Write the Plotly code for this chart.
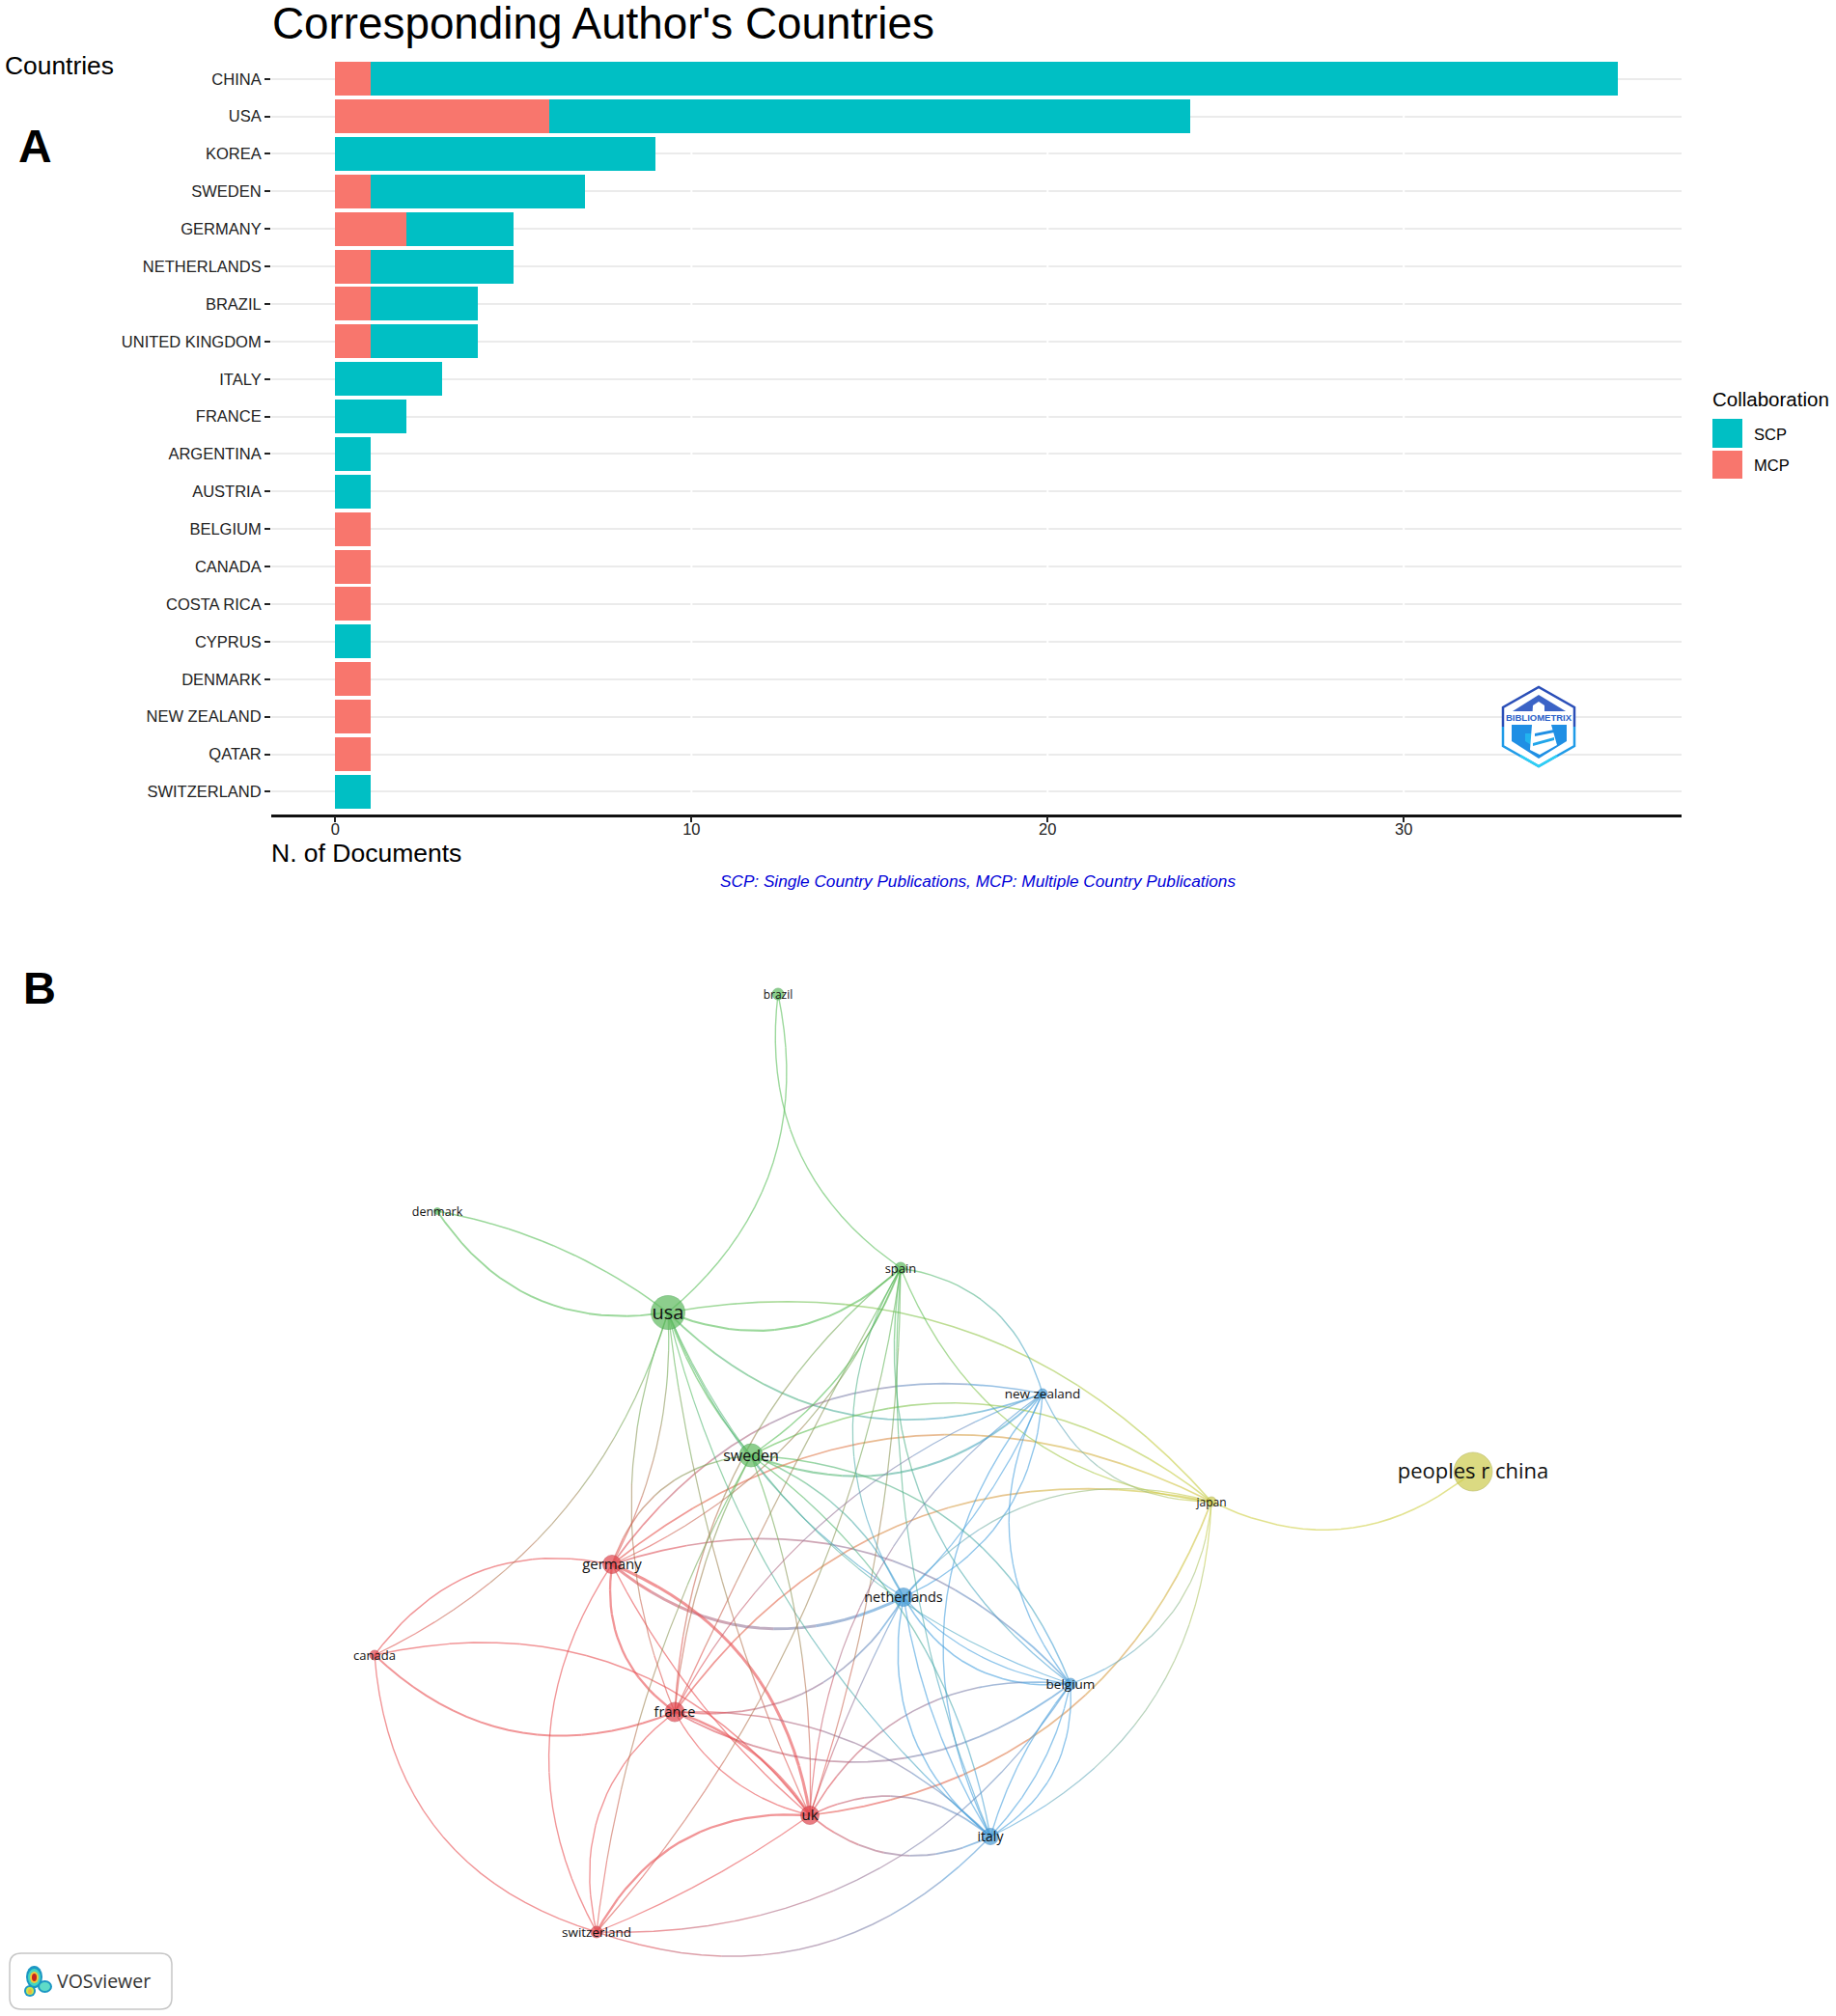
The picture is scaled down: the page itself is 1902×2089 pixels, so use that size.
import plotly.graph_objects as go

# ---- Panel A data ----
countries = ["CHINA", "USA", "KOREA", "SWEDEN", "GERMANY", "NETHERLANDS", "BRAZIL",
             "UNITED KINGDOM", "ITALY", "FRANCE", "ARGENTINA", "AUSTRIA", "BELGIUM",
             "CANADA", "COSTA RICA", "CYPRUS", "DENMARK", "NEW ZEALAND", "QATAR", "SWITZERLAND"]
mcp_docs = [1, 6, 0, 1, 2, 1, 1, 1, 0, 0, 0, 0, 1, 1, 1, 0, 1, 1, 1, 0]
scp_docs = [35, 18, 9, 6, 3, 4, 3, 3, 3, 2, 1, 1, 0, 0, 0, 1, 0, 0, 0, 1]
x_ticks = [0, 10, 20, 30]

# ---- Panel B data (map coordinates of the VOSviewer layout) ----
node_names = ["brazil", "denmark", "usa", "spain", "new zealand", "sweden", "germany", "netherlands",
              "canada", "france", "belgium", "uk", "italy", "switzerland", "japan", "peoples r china"]
node_x = [806, 453, 692, 933, 1080, 778, 634, 936, 388, 699, 1109, 839, 1026, 618, 1255, 1526]
node_y = [1030, 1255, 1360, 1314, 1444, 1508, 1621, 1655, 1715, 1774, 1745, 1881, 1903, 2002, 1556, 1525]
node_size = [12, 7, 35, 12, 10, 24, 19, 19, 10, 20, 12, 19, 17, 12, 10, 40]
node_cluster = ["g", "g", "g", "g", "b", "g", "r", "b", "r", "r", "b", "r", "b", "r", "y", "y"]
label_size = [12, 12.5, 20, 13, 13.5, 16, 15, 14.5, 13, 14.5, 13.5, 15, 14, 13.5, 12, 22]

# (from, to, bend, width): bend > 0 bulges to the right-hand side of the travel direction
edges = [
    ("usa", "denmark", -0.32, 1.6), ("usa", "denmark", 0.12, 1.3), ("usa", "brazil", 0.30, 1.2),
    ("spain", "brazil", -0.30, 1.2), ("usa", "spain", 0.32, 1.8), ("usa", "japan", -0.28, 1.4),
    ("spain", "japan", 0.30, 1.2), ("spain", "new zealand", -0.32, 1.2), ("usa", "new zealand", 0.32, 1.6),
    ("sweden", "new zealand", 0.32, 1.8), ("germany", "new zealand", -0.32, 1.5), ("sweden", "japan", -0.32, 1.4),
    ("germany", "japan", -0.32, 1.5), ("france", "japan", -0.32, 1.5), ("uk", "japan", 0.30, 1.5),
    ("belgium", "japan", 0.32, 1.1), ("italy", "japan", 0.30, 1.1), ("new zealand", "japan", 0.32, 1.1),
    ("japan", "peoples r china", 0.32, 1.4), ("netherlands", "new zealand", 0.30, 1.2),
    ("netherlands", "new zealand", 0.10, 1.1), ("netherlands", "japan", -0.32, 1.1),
    ("new zealand", "belgium", 0.32, 1.2), ("new zealand", "italy", 0.32, 1.2), ("spain", "belgium", 0.30, 1.2),
    ("sweden", "belgium", -0.32, 1.3), ("germany", "belgium", -0.32, 1.5), ("netherlands", "belgium", 0.32, 1.4),
    ("netherlands", "belgium", 0.18, 1.1), ("france", "belgium", 0.32, 1.6), ("uk", "belgium", -0.32, 1.4),
    ("france", "netherlands", 0.32, 1.5), ("germany", "netherlands", 0.32, 2.6), ("germany", "france", 0.30, 2.0),
    ("germany", "uk", -0.28, 2.6), ("germany", "uk", 0.10, 1.2), ("germany", "canada", 0.32, 1.3),
    ("canada", "france", 0.32, 1.7), ("canada", "uk", -0.32, 1.3), ("canada", "switzerland", 0.34, 1.2),
    ("germany", "switzerland", 0.30, 1.2), ("france", "switzerland", 0.32, 1.2), ("france", "uk", -0.18, 2.2),
    ("france", "uk", 0.22, 1.2), ("france", "italy", -0.22, 1.3), ("uk", "switzerland", 0.32, 2.0),
    ("uk", "switzerland", -0.06, 1.1), ("belgium", "switzerland", -0.28, 1.2), ("switzerland", "italy", 0.32, 1.3),
    ("spain", "switzerland", -0.15, 1.1), ("spain", "sweden", -0.16, 1.3), ("spain", "germany", -0.20, 1.1),
    ("spain", "france", 0.22, 1.2), ("spain", "france", 0.02, 1.1), ("spain", "uk", -0.08, 1.1),
    ("spain", "netherlands", 0.30, 1.1), ("spain", "italy", 0.12, 1.1), ("usa", "canada", -0.22, 1.1),
    ("usa", "france", 0.20, 1.1), ("usa", "germany", -0.14, 1.1), ("usa", "sweden", 0.10, 1.3),
    ("usa", "uk", 0.08, 1.1), ("usa", "netherlands", 0.16, 1.1), ("usa", "italy", 0.16, 1.1),
    ("usa", "belgium", 0.22, 1.0), ("sweden", "germany", 0.32, 1.3), ("sweden", "france", 0.10, 1.2),
    ("sweden", "uk", -0.10, 1.1), ("sweden", "switzerland", 0.10, 1.1), ("sweden", "netherlands", -0.20, 1.3),
    ("sweden", "italy", -0.20, 1.2), ("netherlands", "italy", 0.30, 1.3), ("netherlands", "italy", 0.10, 1.2),
    ("netherlands", "uk", 0.04, 1.1), ("belgium", "italy", 0.10, 1.2), ("belgium", "italy", -0.30, 1.2),
    ("belgium", "italy", -0.14, 1.2), ("uk", "italy", -0.32, 1.5), ("uk", "italy", 0.32, 1.6),
    ("new zealand", "france", 0.19, 1.1), ("new zealand", "uk", 0.24, 1.1),
]

# ---- colours ----
SCP_COLOR = "#00BFC4"
MCP_COLOR = "#F8766D"
GRID = "#ebebeb"
CLUSTER_RGB = {"r": (232, 78, 82), "g": (88, 190, 88), "b": (72, 160, 222), "y": (206, 206, 66)}
CLUSTER_NODE = {"r": "rgb(226,70,78)", "g": "rgb(94,186,94)",
                "b": "rgb(70,156,216)", "y": "rgb(205,203,78)"}
CLUSTER_EDGE = {"r": "rgba(190,50,60,0.7)", "g": "rgba(60,160,70,0.7)",
                "b": "rgba(50,130,190,0.7)", "y": "rgba(170,170,60,0.7)"}

W, H = 1902, 2089
PX = lambda v: v / W
PY = lambda v: 1 - v / H
SANS = "Liberation Sans, Arial, sans-serif"
OPEN = "Open Sans, Noto Sans, sans-serif"

fig = go.Figure()

# ---- Panel A bars ----
fig.add_trace(go.Bar(y=countries, x=mcp_docs, name="MCP", orientation="h", marker_color=MCP_COLOR,
                     marker_line_width=0, width=0.9, showlegend=False))
fig.add_trace(go.Bar(y=countries, x=scp_docs, name="SCP", orientation="h", marker_color=SCP_COLOR,
                     marker_line_width=0, width=0.9, showlegend=False))

# ---- Panel B edges, drawn as curved gradient lines ----
index = {n: i for i, n in enumerate(node_names)}
N_SEG, N_PTS = 7, 4
LABEL_DROP = 1.5


def curve(a, b, bend, t):
    ax, ay, bx, by = node_x[a], node_y[a], node_x[b], node_y[b]
    cx = (ax + bx) / 2 - bend * (by - ay)
    cy = (ay + by) / 2 + bend * (bx - ax)
    u = 1 - t
    return u * u * ax + 2 * u * t * cx + t * t * bx, u * u * ay + 2 * u * t * cy + t * t * by


for name_a, name_b, bend, width in edges:
    a, b = index[name_a], index[name_b]
    ca, cb = CLUSTER_RGB[node_cluster[a]], CLUSTER_RGB[node_cluster[b]]
    for s in range(N_SEG):
        ts = [(s + k / (N_PTS - 1)) / N_SEG for k in range(N_PTS)]
        pts = [curve(a, b, bend, t) for t in ts]
        m = (s + 0.5) / N_SEG
        col = [round(ca[i] * (1 - m) + cb[i] * m) for i in range(3)]
        fig.add_trace(go.Scatter(
            x=[p[0] for p in pts], y=[p[1] for p in pts], xaxis="x2", yaxis="y2", mode="lines",
            line=dict(color=f"rgba({col[0]},{col[1]},{col[2]},0.6)", width=width * 1.15),
            hoverinfo="skip", showlegend=False))

# ---- Panel B nodes and labels ----
fig.add_trace(go.Scatter(
    x=node_x, y=node_y, xaxis="x2", yaxis="y2", mode="markers",
    marker=dict(size=node_size, color=[CLUSTER_NODE[c] for c in node_cluster],
                line=dict(width=1, color=[CLUSTER_EDGE[c] for c in node_cluster])),
    hoverinfo="skip", showlegend=False))
fig.add_trace(go.Scatter(
    x=node_x, y=[v + LABEL_DROP for v in node_y], xaxis="x2", yaxis="y2", mode="text", text=node_names,
    textposition="middle center",
    textfont=dict(family=OPEN, size=label_size, color="#111111"),
    hoverinfo="skip", showlegend=False))

shapes = []
# white breaks in the horizontal grid at the x ticks
for t in x_ticks[1:]:
    shapes.append(dict(type="line", xref="x", yref="y", x0=t, x1=t, y0=-0.6, y1=19.6,
                       line=dict(color="white", width=2), layer="between"))
# legend keys
shapes.append(dict(type="rect", xref="x2", yref="y2", x0=1774, x1=1805, y0=434, y1=464,
                   fillcolor=SCP_COLOR, line_width=0))
shapes.append(dict(type="rect", xref="x2", yref="y2", x0=1774, x1=1805, y0=467, y1=496,
                   fillcolor=MCP_COLOR, line_width=0))


def poly(points, fill, line_color=None, line_width=0):
    path = "M " + " L ".join(f"{x} {y}" for x, y in points) + " Z"
    d = dict(type="path", xref="x2", yref="y2", path=path, fillcolor=fill, line_width=line_width)
    if line_color:
        d["line_color"] = line_color
    return d


def open_line(points, color, width):
    path = "M " + " L ".join(f"{x} {y}" for x, y in points)
    return dict(type="path", xref="x2", yref="y2", path=path, line=dict(color=color, width=width))


# Bibliometrix badge
shapes += [
    poly([(1594, 712), (1631, 733), (1631, 773), (1594, 794), (1557, 773), (1557, 733)], "white"),
    open_line([(1557, 753), (1557, 733), (1594, 712), (1631, 733), (1631, 753)], "#2b4fb8", 2.5),
    open_line([(1557, 753), (1557, 773), (1594, 794), (1631, 773), (1631, 753)], "#1f9be8", 2.5),
    open_line([(1575, 783), (1594, 794), (1613, 783)], "#2fd0f5", 2.5),
    poly([(1567, 737), (1594, 720), (1622, 737)], "#3b63c6"),
    poly([(1566, 751), (1623, 751), (1623, 768), (1594, 786), (1566, 768)], "#1f8fe4"),
    poly([(1580, 768), (1594, 777), (1608, 768), (1608, 760), (1580, 760)], "#22b4ef"),
    poly([(1588, 731), (1594, 727), (1600, 731), (1600, 746), (1587, 746)], "white"),
    poly([(1587, 751), (1607, 751), (1613, 772), (1595, 782), (1585, 777)], "white"),
    poly([(1590, 760), (1610, 756), (1610, 759), (1590, 763)], "#1f8fe4"),
    poly([(1588, 770), (1610, 764), (1610, 767), (1588, 773)], "#22a6ea"),
]
# VOSviewer box and heat-map mark
shapes += [
    dict(type="path", xref="x2", yref="y2",
         path="M 22 2024 L 166 2024 Q 178 2024 178 2036 L 178 2070 Q 178 2082 166 2082 "
              "L 22 2082 Q 10 2082 10 2070 L 10 2036 Q 10 2024 22 2024 Z",
         fillcolor="white", line=dict(color="#c6c6c6", width=1.5)),
]
blobs = [
    (27, 44, 2037, 2060, "#1b97c4"), (39, 54, 2052, 2065, "#1b97c4"), (25, 37, 2057, 2069, "#1b97c4"),
    (29, 42, 2040, 2058, "#45d6c0"), (41, 52, 2054, 2063, "#5fdcc8"), (27, 35, 2059, 2067, "#c8e650"),
    (31, 40, 2043, 2055, "#f3c93a"), (33, 38, 2045, 2053, "#c4261c"), (29, 33, 2061, 2066, "#f4b13a"),
]
for x0, x1, y0, y1, c in blobs:
    shapes.append(dict(type="circle", xref="x2", yref="y2", x0=x0, x1=x1, y0=y0, y1=y1,
                       fillcolor=c, line_width=0))


def note(text, x, y, size, anchor="left", color="#000000", family=SANS):
    return dict(text=text, xref="paper", yref="paper", x=PX(x), y=PY(y), xanchor=anchor, yanchor="middle",
                showarrow=False, font=dict(family=family, size=size, color=color))


annotations = [
    note("Corresponding Author's Countries", 280, 25, 45.8),
    note("Countries", 3, 68, 26.4),
    note("<b>A</b>", 17, 151, 48),
    note("<b>B</b>", 22, 1023, 47),
    note("N. of Documents", 279, 884, 26.5),
    note("<i>SCP: Single Country Publications, MCP: Multiple Country Publications</i>", 1013, 913, 17.2,
         anchor="center", color="#0000d8"),
    note("Collaboration", 1772, 414, 20.5),
    note("SCP", 1815, 450, 16.5),
    note("MCP", 1815, 482, 16.5),
    note("<b>BIBLIOMETRIX</b>", 1594, 743, 9.5, anchor="center", color="#2a5fc8"),
    note("VOSviewer", 57, 2052, 19.5, color="#333333", family=OPEN),
]

fig.update_layout(
    width=W, height=H, margin=dict(l=0, r=0, t=0, b=0), autosize=False,
    paper_bgcolor="white", plot_bgcolor="rgba(0,0,0,0)", barmode="stack", bargap=0.1,
    showlegend=False, font=dict(family=SANS),
    xaxis=dict(domain=[PX(281), PX(1742)], anchor="y", range=[-1.8, 37.8], tickvals=x_ticks,
               showgrid=False, zeroline=False, showline=True, linecolor="#111111", linewidth=2.5,
               ticks="outside", ticklen=6, tickwidth=1.5, tickcolor="#222222", ticklabelstandoff=-7,
               tickfont=dict(size=16.5, color="#222222")),
    yaxis=dict(domain=[PY(843.7), PY(58.4)], anchor="x", type="category", categoryorder="array",
               categoryarray=countries, range=[19.6, -0.6], showgrid=True, gridcolor=GRID, gridwidth=2,
               zeroline=False, showline=False, ticks="outside", ticklen=6, tickwidth=1.5,
               tickcolor="#222222", tickfont=dict(size=16.5, color="#222222")),
    xaxis2=dict(domain=[0, 1], anchor="y2", range=[0, W], visible=False, fixedrange=True),
    yaxis2=dict(domain=[0, 1], anchor="x2", range=[H, 0], visible=False, fixedrange=True),
    shapes=shapes, annotations=annotations,
)

fig.write_html("out.html", config={"displayModeBar": False},
               post_script="document.body.style.margin='0';"
               "document.documentElement.style.overflow='hidden';")
